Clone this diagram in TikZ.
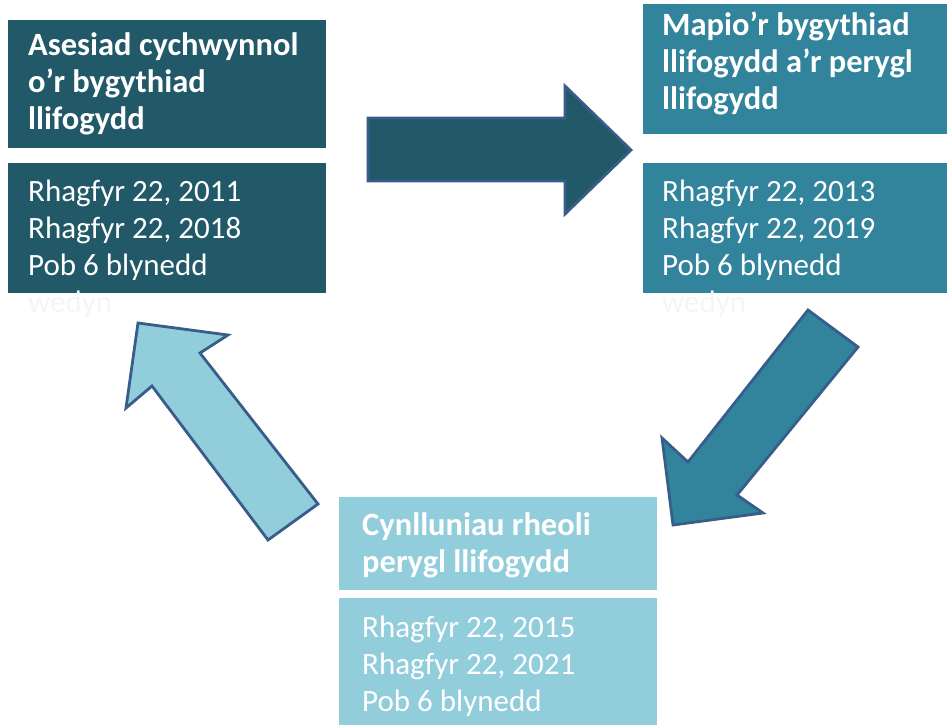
\documentclass[tikz,border=0pt]{standalone}
\usepackage{fontspec}
\setmainfont{Carlito}
\definecolor{cdark}{RGB}{33,89,104}
\definecolor{cmid}{RGB}{49,132,155}
\definecolor{clight}{RGB}{146,205,220}
\definecolor{cedge}{RGB}{56,93,138}
\definecolor{cghost}{RGB}{243,245,246}
\begin{document}
\begin{tikzpicture}[x=1pt,y=-1pt,
  box/.style={rectangle, draw=none, inner sep=0pt, anchor=north west},
  txt/.style={anchor=base west, inner sep=0pt, text=white,
    font=\fontsize{31}{37.3}\selectfont},
  ttl/.style={txt, font=\fontsize{32.5}{37.3}\selectfont\bfseries},
  blockarrow/.style={draw=cedge, line width=2.8pt, line join=miter}]
\useasboundingbox (0,0) rectangle (947,724);
% boxes
\node[box, fill=cdark, minimum width=318pt, minimum height=128pt] (t1) at (8,20) {};
\node[box, fill=cdark, minimum width=318pt, minimum height=130pt] (d1) at (8,163) {};
\node[box, fill=cmid, minimum width=310pt, minimum height=130pt] (t2) at (643,4) {};
\node[box, fill=cmid, minimum width=310pt, minimum height=130pt] (d2) at (643,163) {};
\node[box, fill=clight, minimum width=318pt, minimum height=93pt] (t3) at (339,497) {};
\node[box, fill=clight, minimum width=318pt, minimum height=132pt] (d3) at (339,598) {};
% texts
\node[ttl] (t1x) at (28,55) {\begin{tabular}[t]{@{}l@{}}Asesiad cychwynnol\\o’r bygythiad\\llifogydd\end{tabular}};
\node[txt] (d1x) at (28,201) {\begin{tabular}[t]{@{}l@{}}Rhagfyr 22, 2011\\Rhagfyr 22, 2018\\Pob 6 blynedd\\\textcolor{cghost}{wedyn}\end{tabular}};
\node[ttl] (t2x) at (662,35) {\begin{tabular}[t]{@{}l@{}}Mapio’r bygythiad\\llifogydd a’r perygl\\llifogydd\end{tabular}};
\node[txt] (d2x) at (662,201) {\begin{tabular}[t]{@{}l@{}}Rhagfyr 22, 2013\\Rhagfyr 22, 2019\\Pob 6 blynedd\\\textcolor{cghost}{wedyn}\end{tabular}};
\node[ttl] (t3x) at (362,535) {\begin{tabular}[t]{@{}l@{}}Cynlluniau rheoli\\perygl llifogydd\end{tabular}};
\node[txt] (d3x) at (362,637) {\begin{tabular}[t]{@{}l@{}}Rhagfyr 22, 2015\\Rhagfyr 22, 2021\\Pob 6 blynedd\end{tabular}};
% block arrows
\draw[blockarrow, fill=cdark] (368,118) -- (565,118) -- (565,86) -- (631,150) -- (565,214) -- (565,181) -- (368,181) -- cycle;
\draw[blockarrow, fill=cmid] (808,310) -- (858,347) -- (737,495) -- (763,513) -- (673,525) -- (662,438) -- (688,462) -- cycle;
\draw[blockarrow, fill=clight] (138,323) -- (228,335) -- (200,353) -- (318,504) -- (268,540) -- (152,386) -- (126,408) -- cycle;
\end{tikzpicture}
\end{document}
